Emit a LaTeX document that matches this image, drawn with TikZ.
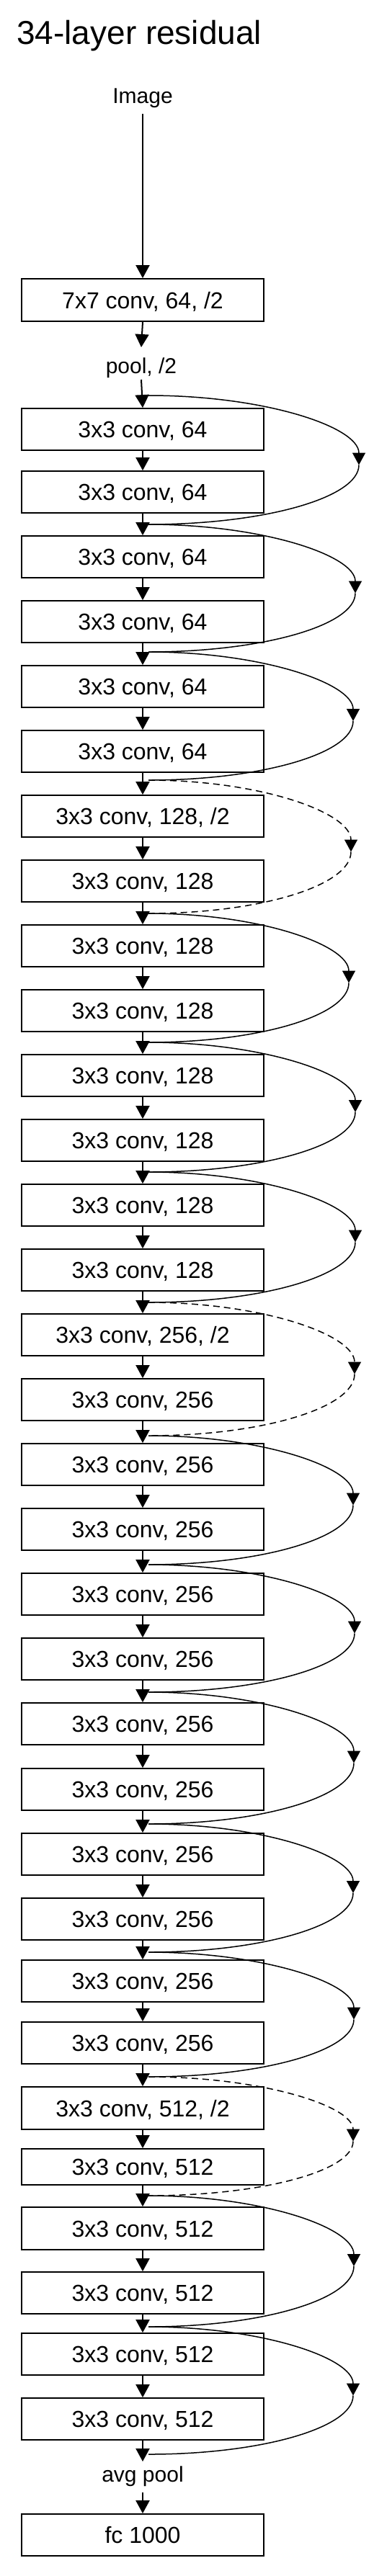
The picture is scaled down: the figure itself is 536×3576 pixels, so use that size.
\documentclass[tikz,border=0pt]{standalone}
\usepackage{fontspec}
\setmainfont{Liberation Sans}
\usetikzlibrary{arrows.meta,calc}
\begin{document}
\begin{tikzpicture}[x=1pt,y=-1pt,
  box/.style={draw=black,line width=1.8pt,minimum width=336pt,inner sep=0pt,
    font=\fontsize{32}{38}\selectfont,text height=23pt,text depth=0pt},
  lbl/.style={inner sep=0pt,font=\fontsize{30}{36}\selectfont,anchor=base},
  arr/.style={line width=2pt,-{Triangle[length=18pt,width=19pt]}},
  skipline/.style={line width=1.5pt},
  skiparr/.style={line width=1.5pt,-{Triangle[length=17pt,width=18pt]}},
  shortcut/.style={dash pattern=on 9pt off 6pt}
]
\useasboundingbox (0,0) rectangle (536,3576);
\node[anchor=base west,inner sep=0pt,font=\fontsize{46}{55}\selectfont] (title) at (23,61) {34-layer residual};
\node[lbl] (img) at (198,143) {Image};
\node[box,minimum height=59pt] (c7) at (198,416.5) {7x7 conv, 64, /2};
\node[lbl] (pool) at (196,518) {pool, /2};
\draw[arr] ([yshift=-15pt]img.base) -- (c7.north);
\draw[arr] (c7.south) -- ([yshift=36pt]pool.base);

\foreach \t/\h/\l [count=\i] in {
  567/58/{3x3 conv, 64},
  654/58/{3x3 conv, 64},
  744/58/{3x3 conv, 64},
  834/58/{3x3 conv, 64},
  924/58/{3x3 conv, 64},
  1014/58/{3x3 conv, 64},
  1104/58/{3x3 conv, 128, /2},
  1194/58/{3x3 conv, 128},
  1284/58/{3x3 conv, 128},
  1374/58/{3x3 conv, 128},
  1464/58/{3x3 conv, 128},
  1554/58/{3x3 conv, 128},
  1644/58/{3x3 conv, 128},
  1734/58/{3x3 conv, 128},
  1824/58/{3x3 conv, 256, /2},
  1914/58/{3x3 conv, 256},
  2004/58/{3x3 conv, 256},
  2094/58/{3x3 conv, 256},
  2184/58/{3x3 conv, 256},
  2274/58/{3x3 conv, 256},
  2364/58/{3x3 conv, 256},
  2455/58/{3x3 conv, 256},
  2545/58/{3x3 conv, 256},
  2635/58/{3x3 conv, 256},
  2721/58/{3x3 conv, 256},
  2807/58/{3x3 conv, 256},
  2897/59/{3x3 conv, 512, /2},
  2983/50/{3x3 conv, 512},
  3064/59/{3x3 conv, 512},
  3154/58/{3x3 conv, 512},
  3239/58/{3x3 conv, 512},
  3329/58/{3x3 conv, 512}} {
  \node[box,minimum height=\h pt] (b\i) at (198,\t+\h/2) {\l};
}
\draw[arr] ([yshift=-9pt]pool.base) -- (b1.north);
\foreach \i [evaluate=\i as \n using int(\i+1)] in {1,...,31}
  \draw[arr] (b\i.south) -- (b\n.north);

\node[lbl] (avg) at (198,3445) {avg pool};
\node[box,minimum height=58pt] (fc) at (198,3519) {fc 1000};
\draw[arr] (b32.south) -- ([yshift=28pt]avg.base);
\draw[arr] ([yshift=-15pt]avg.base) -- (fc.north);

\foreach \a/\y in {1/549,3/728,5/905,7/1083,9/1268,11/1447,13/1627,15/1808,
  17/1993,19/2172,21/2349,23/2532,25/2710,27/2883,29/3048,31/3230,33/3407}
  \coordinate (j\a) at (206,\y);

\foreach \a/\b/\ys/\ye/\R/\st in {
  1/3/549/728/498/solid,
  3/5/728/905/493/solid,
  5/7/905/1083/490/solid,
  7/9/1083/1268/487/shortcut,
  9/11/1268/1447/484/solid,
  11/13/1447/1627/493/solid,
  13/15/1627/1808/493/solid,
  15/17/1808/1993/492/shortcut,
  17/19/1993/2172/490/solid,
  19/21/2172/2349/492/solid,
  21/23/2349/2532/491/solid,
  23/25/2532/2710/490/solid,
  25/27/2710/2883/491/solid,
  27/29/2883/3048/490/shortcut,
  29/31/3048/3230/491/solid,
  31/33/3230/3407/490/solid} {
  \pgfmathsetmacro\ym{(\ys+\ye)/2+7}
  \pgfmathsetmacro\cx{0.55*(\R-206)}
  \pgfmathsetmacro\da{0.55*(\ym-\ys)}
  \pgfmathsetmacro\db{0.55*(\ye-\ym)}
  \coordinate (m\a) at (\R,\ym);
  \draw[skiparr,\st] (j\a) .. controls +(\cx,0) and +(0,-\da) .. (m\a);
  \draw[skipline,\st] (m\a) .. controls +(0,\db) and +(\cx,0) .. (j\b);
}
\end{tikzpicture}
\end{document}
